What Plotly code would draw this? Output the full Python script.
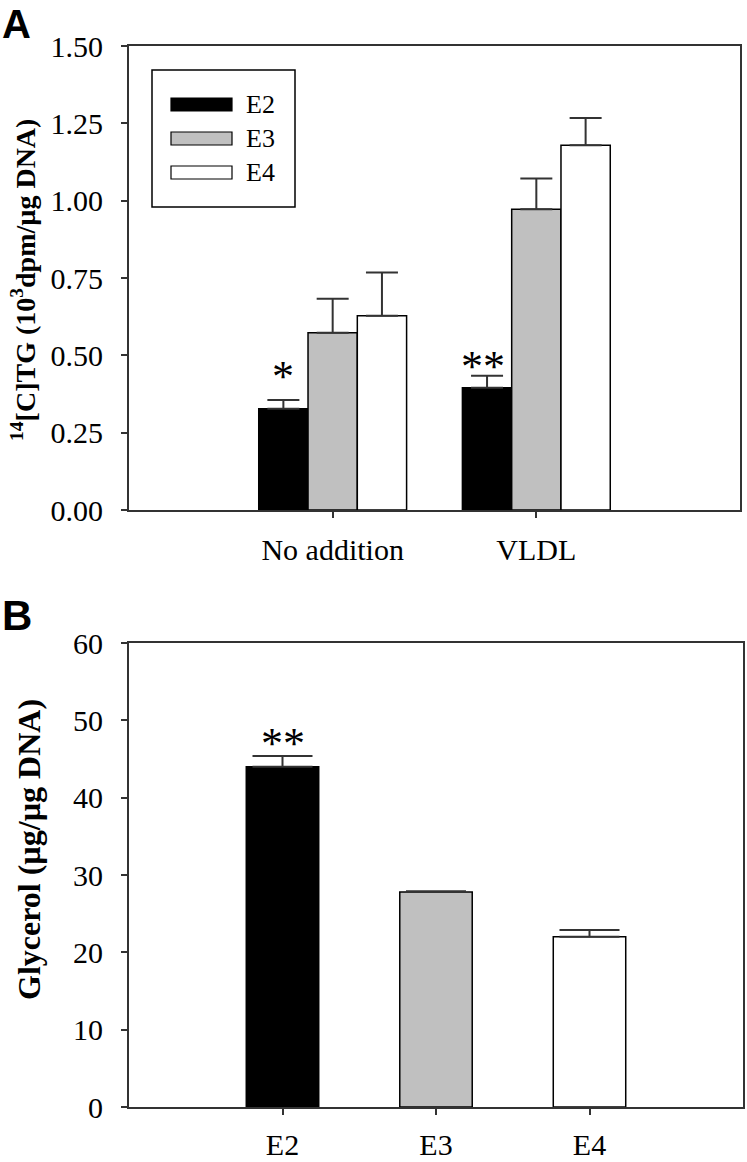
import plotly.graph_objects as go

# ---- data ----
groups_a = ["No addition", "VLDL"]
series_names = ["E2", "E3", "E4"]
tg_e2 = [0.327, 0.395]
tg_e3 = [0.573, 0.972]
tg_e4 = [0.628, 1.179]
tg_e2_err = [0.029, 0.039]
tg_e3_err = [0.110, 0.100]
tg_e4_err = [0.140, 0.088]

cats_b = ["E2", "E3", "E4"]
glycerol = [44.0, 27.8, 22.0]
glycerol_err = [1.4, 0.1, 0.9]

y_ticks_a = [0.0, 0.25, 0.5, 0.75, 1.0, 1.25, 1.5]
y_ticks_b = [0, 10, 20, 30, 40, 50, 60]

colors = ["#000000", "#c0c0c0", "#ffffff"]

W, H = 747, 1162
SERIF = "Liberation Serif"
SANS = "Liberation Sans"
AXC = "#333333"

fig = go.Figure()

series_vals = [tg_e2, tg_e3, tg_e4]
series_errs = [tg_e2_err, tg_e3_err, tg_e4_err]
for name, vals, errs, col in zip(series_names, series_vals, series_errs, colors):
    fig.add_trace(go.Bar(
        x=groups_a, y=vals, name=name, xaxis="x", yaxis="y",
        marker=dict(color=col, line=dict(color="#000000", width=1.5)),
        error_y=dict(type="data", array=errs, arrayminus=[0] * len(errs),
                     symmetric=False, color=AXC, thickness=2, width=16),
        showlegend=False,
    ))

fig.add_trace(go.Bar(
    x=cats_b, y=glycerol, xaxis="x2", yaxis="y2", width=0.472,
    marker=dict(color=colors, line=dict(color="#000000", width=1.5)),
    error_y=dict(type="data", array=glycerol_err, arrayminus=[0] * 3,
                 symmetric=False, color=AXC, thickness=2, width=30),
    showlegend=False,
))

def px_x(p):
    return p / W

def px_y(p):
    return 1 - p / H

axis_common = dict(showline=True, mirror=True, linecolor=AXC, linewidth=2,
                   ticks="outside", ticklen=6, tickwidth=1.5, tickcolor=AXC,
                   showgrid=False, zeroline=False, automargin=False,
                   tickfont=dict(family=SERIF, size=30, color="#000"))

fig.update_layout(
    template="none",
    width=W, height=H,
    margin=dict(l=0, r=0, t=0, b=0, autoexpand=False),
    paper_bgcolor="white", plot_bgcolor="white",
    barmode="group", bargap=0.274, bargroupgap=0,
    xaxis=dict(domain=[px_x(129), px_x(740)], anchor="y", range=[-1, 2],
               ticklabelstandoff=6, **axis_common),
    yaxis=dict(domain=[px_y(510), px_y(46)], anchor="x", range=[0, 1.5],
               tickvals=y_ticks_a, tickformat=".2f", ticklabelstandoff=12,
               **axis_common),
    xaxis2=dict(domain=[px_x(129), px_x(743)], anchor="y2", range=[-1, 3],
                ticklabelstandoff=4, **axis_common),
    yaxis2=dict(domain=[px_y(1107), px_y(643)], anchor="x2", range=[0, 60],
                tickvals=y_ticks_b, ticklabelstandoff=12,
                **axis_common),
)

# axis titles (rotated)
fig.add_annotation(text="<b><sup>14</sup>[C]TG (10<sup>3</sup>dpm/µg DNA)</b>",
                   xref="paper", yref="paper", x=px_x(23), y=px_y(280),
                   xanchor="center", yanchor="middle", textangle=-90, showarrow=False,
                   font=dict(family=SERIF, size=28, color="#000"))
fig.add_annotation(text="<b>Glycerol (µg/µg DNA)</b>",
                   xref="paper", yref="paper", x=px_x(29), y=px_y(850),
                   xanchor="center", yanchor="middle", textangle=-90, showarrow=False,
                   font=dict(family=SERIF, size=32, color="#000"))

# panel letters
fig.add_annotation(text="A", xref="paper", yref="paper", x=px_x(0), y=px_y(0),
                   xanchor="left", yanchor="top", showarrow=False,
                   font=dict(family=SANS, size=40, color="#000", weight="bold"))
fig.add_annotation(text="B", xref="paper", yref="paper", x=px_x(0), y=px_y(590),
                   xanchor="left", yanchor="top", showarrow=False,
                   font=dict(family=SANS, size=42, color="#000", weight="bold"))

# significance marks
offset = 0.242
fig.add_annotation(text="*", x=0 - offset, y=0.43, xref="x", yref="y",
                   showarrow=False, yanchor="middle",
                   font=dict(family=SERIF, size=44, color="#000"))
fig.add_annotation(text="**", x=1 - offset - 0.02, y=0.465, xref="x", yref="y",
                   showarrow=False, yanchor="middle",
                   font=dict(family=SERIF, size=44, color="#000"))
fig.add_annotation(text="**", x=0, y=47.0, xref="x2", yref="y2",
                   showarrow=False, yanchor="middle",
                   font=dict(family=SERIF, size=44, color="#000"))

# custom legend (box, swatches, labels)
fig.add_shape(type="rect", xref="paper", yref="paper",
              x0=px_x(152), x1=px_x(295), y0=px_y(207), y1=px_y(70),
              line=dict(color="#000", width=1.5), fillcolor="white")
sw_y = [(98, 111), (132, 145), (166, 179)]
for name, col, (ya, yb) in zip(series_names, colors, sw_y):
    fig.add_shape(type="rect", xref="paper", yref="paper",
                  x0=px_x(171), x1=px_x(232), y0=px_y(yb), y1=px_y(ya),
                  line=dict(color="#000", width=1.2), fillcolor=col)
    fig.add_annotation(text=name, xref="paper", yref="paper",
                       x=px_x(244), y=px_y((ya + yb) / 2),
                       xanchor="left", yanchor="middle", showarrow=False,
                       font=dict(family=SERIF, size=26, color="#000"))

fig.write_html("out.html", config={"displayModeBar": False},
               post_script="document.body.style.margin='0';document.body.style.overflow='hidden';")
